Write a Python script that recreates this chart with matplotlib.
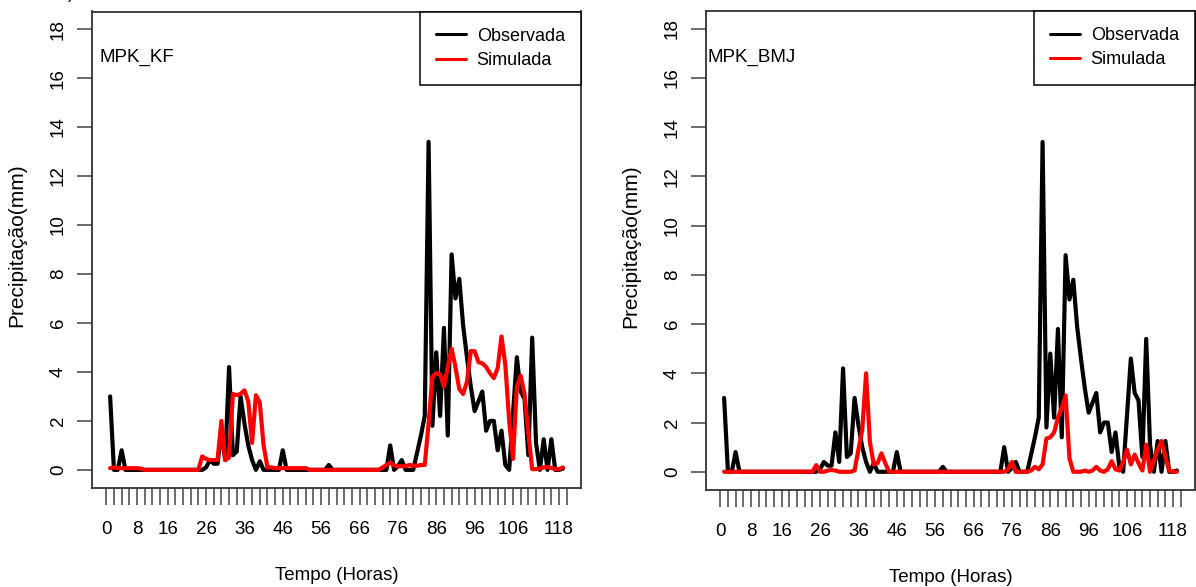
import numpy as np
import matplotlib
matplotlib.use('Agg')
import matplotlib.pyplot as plt

plt.rcParams['font.family'] = ['Liberation Sans', 'DejaVu Sans']

# hourly precipitation (mm), hours 1..119
horas = np.arange(1, 120)

observada = [
    3.0, 0, 0, 0.8, 0,
    0, 0, 0, 0, 0, 0, 0, 0, 0, 0, 0, 0, 0, 0, 0, 0, 0, 0, 0, 0,
    0.1, 0.4, 0.25, 0.25, 1.6, 0.4, 4.2, 0.6, 0.75, 3.0,
    1.9, 1.0, 0.4, 0, 0.35, 0, 0, 0, 0, 0,
    0.8, 0, 0, 0, 0, 0, 0, 0, 0, 0,
    0, 0, 0.2, 0, 0, 0, 0, 0, 0, 0,
    0, 0, 0, 0, 0, 0, 0, 0, 1.0, 0,
    0.15, 0.4, 0, 0, 0, 0.7, 1.4, 2.2, 13.4, 1.8,
    4.8, 2.2, 5.8, 1.4, 8.8, 7.0, 7.8, 5.9, 4.6, 3.4,
    2.4, 2.8, 3.2, 1.6, 2.0, 2.0, 0.8, 1.6, 0.2, 0,
    2.3, 4.6, 3.2, 2.9, 0.6, 5.4, 1.1, 0, 1.25, 0,
    1.25, 0, 0, 0.05,
]

simulada_kf = [
    0.07, 0.1, 0.07, 0.07, 0.07, 0.07, 0.07, 0.07, 0.05,
    0, 0, 0, 0, 0, 0, 0, 0, 0, 0, 0, 0, 0, 0, 0,
    0.55, 0.45, 0.4, 0.4, 0.4, 2.0, 0.4, 0.5, 3.1, 3.05,
    3.1, 3.25, 2.8, 1.1, 3.05, 2.75, 1.0, 0.1, 0.1,
    0.07, 0.07, 0.07, 0.07, 0.07, 0.07, 0.07, 0.07, 0.07,
    0, 0, 0, 0, 0, 0, 0, 0, 0, 0, 0, 0, 0, 0, 0, 0, 0, 0, 0,
    0.1, 0.2, 0.3, 0.18, 0.15, 0.15, 0.15, 0.2, 0.17, 0.17,
    0.2, 0.2, 1.9, 3.8, 3.95, 3.9, 3.4, 4.2, 4.95, 4.2,
    3.3, 3.1, 3.6, 4.85, 4.85, 4.4, 4.35, 4.2, 3.95, 3.75,
    4.15, 5.45, 4.3, 2.0, 0.45, 3.4, 3.85, 3.1, 1.5, 0.03,
    0.03, 0.05, 0.1, 0.12, 0.08, 0.03, 0.03, 0.1,
]

simulada_bmj = [
    0, 0, 0, 0, 0, 0, 0, 0, 0, 0, 0, 0, 0, 0, 0, 0, 0, 0, 0, 0, 0, 0, 0, 0,
    0.27, 0, 0, 0.05, 0.07, 0.05, 0, 0, 0, 0,
    0.05, 0.9, 1.7, 4.0, 1.2, 0.3, 0.35, 0.75, 0.35,
    0, 0, 0, 0, 0, 0, 0, 0, 0, 0, 0, 0, 0, 0, 0, 0,
    0, 0, 0, 0, 0, 0, 0, 0, 0, 0, 0, 0, 0, 0, 0,
    0.1, 0.4, 0, 0, 0, 0, 0.05, 0.2, 0.1, 0.3,
    1.35, 1.4, 1.6, 2.2, 2.6, 3.1, 0.55, 0, 0, 0,
    0.05, 0, 0.05, 0.2, 0.05, 0, 0.1, 0.43, 0.1, 0.05,
    0.4, 0.9, 0.3, 0.7, 0.35, 0.05, 1.1, 0, 0.45, 0.9,
    1.25, 0.6, 0.05, 0, 0,
]

ticks_x = np.arange(0, 121, 2)
rotulos_x = [0, 8, 16, 26, 36, 46, 56, 66, 76, 86, 96, 106, 118]
ticks_y = np.arange(0, 19, 2)

W, H = 1196, 587
fig = plt.figure(figsize=(W / 100, H / 100), dpi=100)


def painel(rect, sim, nome, nome_x):
    ax = fig.add_axes(rect)
    ax.plot(horas, observada, color='black', lw=3.0, solid_joinstyle='round',
            solid_capstyle='round', label='Observada')
    ax.plot(horas, sim, color='#ff0000', lw=3.0, solid_joinstyle='round',
            solid_capstyle='round', label='Simulada')
    d = horas[-1] - horas[0]
    ax.set_xlim(horas[0] - 0.04 * d, horas[-1] + 0.04 * d)
    ax.set_ylim(-0.72, 18.72)

    ax.set_xticks(ticks_x)
    ax.set_xticklabels([str(t) if t in rotulos_x else '' for t in ticks_x])
    ax.set_yticks(ticks_y)
    ax.set_yticklabels([str(t) for t in ticks_y], rotation=90, va='center')
    ax.tick_params(axis='x', length=12, width=1.1, color='#444444', pad=12,
                   labelsize=13.5)
    ax.tick_params(axis='y', length=11, width=1.1, color='#444444', pad=7,
                   labelsize=13.5)
    for s in ax.spines.values():
        s.set_color('#333333')
        s.set_linewidth(1.3)

    ax.text(nome_x, 0.903, nome, transform=ax.transAxes, fontsize=13.5,
            va='center', ha='left')
    leg = ax.legend(loc='upper right', borderaxespad=0, fancybox=False,
                    edgecolor='black', framealpha=1, fontsize=13,
                    handlelength=1.65, handletextpad=0.6,
                    borderpad=0.9, labelspacing=0.4)
    leg.get_frame().set_linewidth(1.1)
    for ln in leg.get_lines():
        ln.set_linewidth(2.2)
    return ax


ax1 = painel([92 / W, 1 - 487.5 / H, 489 / W, 476 / H], simulada_kf,
             'MPK_KF', 0.016)
ax2 = painel([706 / W, 1 - 489.5 / H, 489 / W, 478.5 / H], simulada_bmj,
             'MPK_BMJ', 0.004)

fig.text(17 / W, 1 - 245 / H, 'Precipitação(mm)', rotation=90,
         ha='center', va='center', fontsize=15)
fig.text(631 / W, 1 - 246 / H, 'Precipitação(mm)', rotation=90,
         ha='center', va='center', fontsize=15)
fig.text(336.5 / W, 1 - 576 / H, 'Tempo (Horas)', ha='center', va='center',
         fontsize=13.5)
fig.text(950.5 / W, 1 - 577 / H, 'Tempo (Horas)', ha='center', va='center',
         fontsize=13.5)
fig.text(71 / W, 1 + 6 / H, ')', ha='center', va='center', fontsize=13)

fig.savefig('out.png', dpi=100)
